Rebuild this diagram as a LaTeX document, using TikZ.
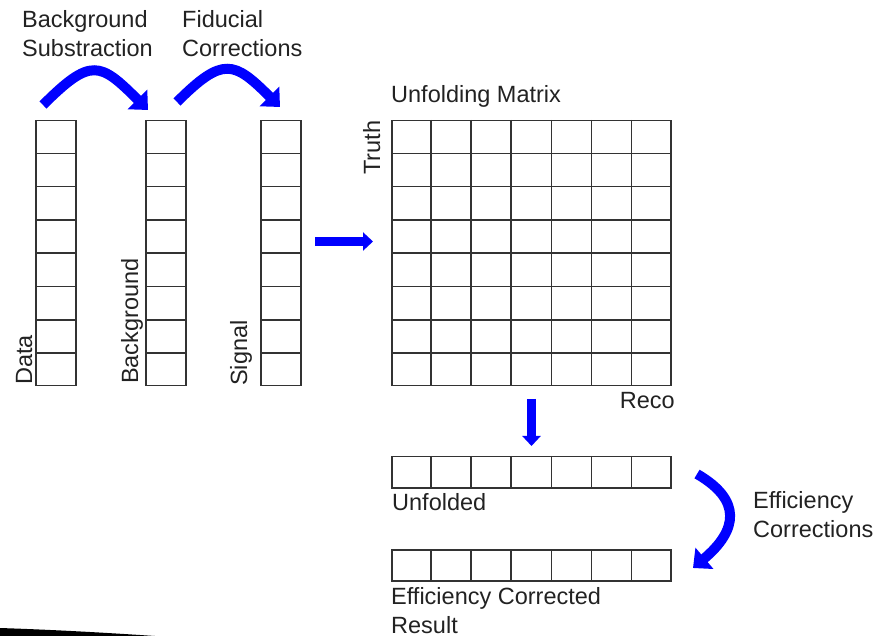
\documentclass[tikz,border=0pt]{standalone}
\usepackage{fontspec}
\setmainfont{Liberation Sans}
\usetikzlibrary{calc,arrows.meta}

\definecolor{inkgray}{HTML}{222222}
\definecolor{linegray}{HTML}{333333}
\definecolor{flowblue}{HTML}{0000FF}

\tikzset{
  lbl/.style={inner sep=0pt, text=inkgray, align=left,
    font=\fontsize{23.5}{29}\selectfont},
  vlbl/.style={lbl, rotate=90, anchor=base west},
  binbox/.style={draw=linegray, line width=1.5pt, inner sep=0pt,
    anchor=north west},
  gridline/.style={draw=linegray, line width=1.5pt},
  bigflow/.style={draw=flowblue, line width=10pt,
    -{Triangle[width=27pt,length=15pt]}},
  flow/.style={draw=flowblue, line width=9pt,
    -{Triangle[width=18pt,length=10pt]}}
}

% draw n-1 horizontal separators inside a box node
\newcommand{\rowsplit}[2]{%
  \foreach \i in {1,...,\numexpr#2-1\relax}
    \draw[gridline] ($(#1.north west)!\i/#2!(#1.south west)$) --
                    ($(#1.north east)!\i/#2!(#1.south east)$);}
% draw n-1 vertical separators inside a box node
\newcommand{\colsplit}[2]{%
  \foreach \i in {1,...,\numexpr#2-1\relax}
    \draw[gridline] ($(#1.north west)!\i/#2!(#1.north east)$) --
                    ($(#1.south west)!\i/#2!(#1.south east)$);}

\begin{document}
\begin{tikzpicture}[x=1pt,y=-1pt]
\useasboundingbox (0,0) rectangle (879,636);

% input histograms
\node[binbox, minimum width=40pt, minimum height=265pt] (data) at (35,120) {};
\node[binbox, minimum width=40pt, minimum height=265pt] (bkg)  at (145,120) {};
\node[binbox, minimum width=40pt, minimum height=265pt] (sig)  at (260,120) {};
\rowsplit{data}{8}
\rowsplit{bkg}{8}
\rowsplit{sig}{8}

\node[vlbl] (datalbl) at (32,385) {Data};
\node[vlbl] (bkglbl)  at (138,384) {Background};
\node[vlbl] (siglbl)  at (247,386) {Signal};

% response matrix
\node[binbox, minimum width=279pt, minimum height=265pt] (mat) at (391,120) {};
\rowsplit{mat}{8}
\colsplit{mat}{7}
\node[lbl, anchor=base west] (matlbl) at (391,103) {Unfolding Matrix};
\node[vlbl] (truth) at (380,175) {Truth};
\node[lbl, anchor=base east] (reco) at (675,409) {Reco};

% unfolded and corrected spectra
\node[binbox, minimum width=279pt, minimum height=31pt] (unf) at (391,456) {};
\colsplit{unf}{7}
\node[lbl, anchor=base west] (unflbl) at (392,511) {Unfolded};

\node[binbox, minimum width=279pt, minimum height=31pt] (eff) at (391,549) {};
\colsplit{eff}{7}
% multi-line labels: the base anchor sits on the last line
\node[lbl, anchor=base west] (efflbl) at (391,633) {Efficiency Corrected\\Result};

% step labels
\node[lbl, anchor=base west] (bsub) at (22,57) {Background\\Substraction};
\node[lbl, anchor=base west] (fid)  at (182,57) {Fiducial\\Corrections};
\node[lbl, anchor=base west] (effc) at (753,537) {Efficiency\\Corrections};

% flow arrows
\coordinate (a1s) at (43,105);  \coordinate (a1e) at (148,110);
\coordinate (a2s) at (177,102); \coordinate (a2e) at (280,107);
\draw[bigflow] (a1s) .. controls (91,57) and (100,62) .. (a1e);
\draw[bigflow] (a2s) .. controls (223,56) and (234,61) .. (a2e);

\coordinate (a3s) at (315,241.5); \coordinate (a3e) at (373,241.5);
\draw[flow] (a3s) -- (a3e);

\coordinate (a4s) at (531.5,399); \coordinate (a4e) at (531.5,446);
\draw[flow] (a4s) -- (a4e);

\coordinate (a5s) at (697,474); \coordinate (a5e) at (693,568);
\draw[bigflow] (a5s) .. controls (742,500) and (738,530) .. (a5e);

% dark wedge along the lower edge
\fill[black] (0,628) .. controls (60,630) and (110,633) .. (155,636) -- (0,636) -- cycle;
\end{tikzpicture}
\end{document}
